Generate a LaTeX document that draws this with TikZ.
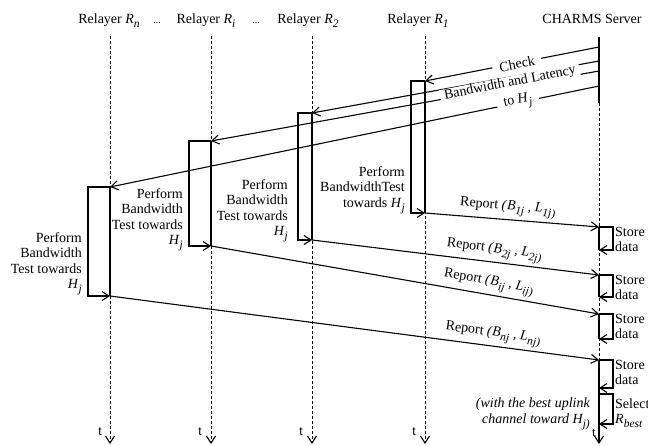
\documentclass[tikz,border=0pt]{standalone}
\usepackage{fontspec}
\setmainfont{Liberation Serif}
\newfontfamily\tsansfont{Liberation Sans}
\usetikzlibrary{arrows.meta}
\newcommand{\vsub}[2]{\textit{#1}\raisebox{-4pt}{\fontsize{11.5}{11.5}\selectfont\itshape #2}}
\tikzset{
  lifeln/.style={line width=0.9pt, dash pattern=on 3pt off 2pt},
  actline/.style={line width=1.1pt},
  tipv/.tip={Straight Barb[length=7pt,width=9pt,line width=1.1pt]},
  msgarrow/.style={line width=1.1pt, -tipv},
  titlelbl/.style={font=\fontsize{14}{16}\selectfont, inner sep=0pt, anchor=base},
  bodytxt/.style={font=\fontsize{14}{15.5}\selectfont, inner sep=0pt, align=right, anchor=north east},
  sidetxt/.style={font=\fontsize{14}{15}\selectfont, inner sep=0pt, align=left, anchor=north west},
  replbl/.style={font=\fontsize{14}{16}\selectfont, inner sep=3pt, above, sloped},
  chklbl/.style={font=\fontsize{14}{16}\selectfont, fill=white, inner xsep=7pt, inner ysep=0pt, rotate=11},
  tlbl/.style={font=\tsansfont\fontsize{12}{12}\selectfont, inner sep=0pt}
}
\begin{document}
\begin{tikzpicture}[x=1pt,y=-1pt]
\useasboundingbox (0,0) rectangle (648,445);

% ---- titles
\node[titlelbl] (tRn) at (109,23) {Relayer \vsub{R}{n}};
\node[titlelbl,font=\fontsize{10}{10}\selectfont] (dots1) at (157,23) {...};
\node[titlelbl] (tRi) at (206,23) {Relayer \vsub{R}{i}};
\node[titlelbl,font=\fontsize{10}{10}\selectfont] (dots2) at (256,23) {...};
\node[titlelbl] (tR2) at (308,23) {Relayer \vsub{R}{2}};
\node[titlelbl] (tR1) at (418,23) {Relayer \vsub{R}{1}};
\node[titlelbl] (tS) at (592,23) {CHARMS Server};

% ---- lifeline coordinates
\coordinate (Rn-top) at (110,36); \coordinate (Rn-end) at (110,444);
\coordinate (Ri-top) at (211,36); \coordinate (Ri-end) at (211,444);
\coordinate (R2-top) at (312,36); \coordinate (R2-end) at (312,444);
\coordinate (R1-top) at (425,36); \coordinate (R1-end) at (425,444);
\coordinate (S-top) at (599,37); \coordinate (S-dash) at (599,103); \coordinate (S-end) at (599,444);

% activation bounds
\coordinate (R1-t) at (425,81);  \coordinate (R1-b) at (425,213);
\coordinate (R2-t) at (312,113); \coordinate (R2-b) at (312,240);
\coordinate (Ri-t) at (211,141); \coordinate (Ri-b) at (211,246);
\coordinate (Rn-t) at (110,187); \coordinate (Rn-b) at (110,296);

% server points
\coordinate (S-m1) at (599,47); \coordinate (S-m2) at (599,61);
\coordinate (S-m3) at (599,71); \coordinate (S-m4) at (599,86);
\coordinate (S-r1) at (599,227); \coordinate (S-s1) at (599,250);
\coordinate (S-r2) at (599,275); \coordinate (S-s2) at (599,297);
\coordinate (S-r3) at (599,314); \coordinate (S-s3) at (599,339);
\coordinate (S-r4) at (599,360); \coordinate (S-s4) at (599,388);
\coordinate (S-selt) at (599,394); \coordinate (S-selb) at (599,424);

% ---- relayer lifelines
\foreach \r in {Rn,Ri,R2,R1}{
  \draw[lifeln, -tipv] (\r-top) -- (\r-end);
  \draw[actline] (\r-t) -- (\r-b);
}

% ---- server lifeline
\draw[actline] (S-top) -- (S-dash);
\draw[lifeln] (S-dash) -- (S-r4);
\draw[actline] (S-r1) -- (S-s1);
\draw[actline] (S-r2) -- (S-s2);
\draw[actline] (S-r3) -- (S-s3);
\draw[actline, -tipv] (S-r4) -- (S-end);

% ---- check messages
\draw[msgarrow] (S-m1) -- (R1-t);
\draw[msgarrow] (S-m2) -- (R2-t);
\draw[msgarrow] (S-m3) -- (Ri-t);
\draw[msgarrow] (S-m4) -- (Rn-t);
\node[chklbl] (chk1) at (517,64) {Check};
\node[chklbl, inner xsep=4pt] (chk2) at (510,83) {Bandwidth and Latency};
\node[chklbl] (chk3) at (518,102) {to \vsub{H}{j}};

% ---- bandwidth tests (self arrows)
\draw[msgarrow] (R1-t) -- ++(-14,0) |- (R1-b);
\draw[msgarrow] (R2-t) -- ++(-14,0) |- (R2-b);
\draw[msgarrow] (Ri-t) -- ++(-22,0) |- (Ri-b);
\draw[msgarrow] (Rn-t) -- ++(-22,0) |- (Rn-b);

\node[bodytxt] (p1) at (405,166) {Perform\\BandwidthTest\\towards \vsub{H}{j}};
\node[bodytxt] (p2) at (288,179) {Perform\\Bandwidth\\Test towards\\\vsub{H}{j}};
\node[bodytxt] (pi) at (183,188) {Perform\\Bandwidth\\Test towards\\\vsub{H}{j}};
\node[bodytxt] (pn) at (82,232) {Perform\\Bandwidth\\Test towards\\\vsub{H}{j}};

% ---- reports
\draw[msgarrow] (R1-b) -- node[replbl, pos=.47] (rep1) {Report \textit{(}\vsub{B}{1j}\textit{ , }\vsub{L}{1j)}} (S-r1);
\draw[msgarrow] (R2-b) -- node[replbl, pos=.63] (rep2) {Report \textit{(}\vsub{B}{2j}\textit{ , }\vsub{L}{2j)}} (S-r2);
\draw[msgarrow] (Ri-b) -- node[replbl, pos=.71] (repi) {Report \textit{(}\vsub{B}{ij}\textit{ , }\vsub{L}{ij)}} (S-r3);
\draw[msgarrow] (Rn-b) -- node[replbl, pos=.78] (repn) {Report \textit{(}\vsub{B}{nj}\textit{ , }\vsub{L}{nj)}} (S-r4);

% ---- store data
\draw[msgarrow] (S-r1) -- ++(14,0) |- (S-s1);
\draw[msgarrow] (S-r2) -- ++(14,0) |- (S-s2);
\draw[msgarrow] (S-r3) -- ++(14,0) |- (S-s3);
\draw[msgarrow] (S-r4) -- ++(14,0) |- (S-s4);
\node[sidetxt] (sd1) at (615,227) {Store\\data};
\node[sidetxt] (sd2) at (615,275) {Store\\data};
\node[sidetxt] (sd3) at (615,314) {Store\\data};
\node[sidetxt] (sd4) at (615,360) {Store\\data};

% ---- select
\draw[msgarrow] (S-selt) -- ++(14,0) |- (S-selb);
\node[sidetxt] (sel) at (615,399) {Select\\\vsub{R}{best}};
\node[bodytxt, font=\fontsize{14}{15.5}\selectfont\itshape] (best) at (590,398) {(with the best uplink\\channel toward \vsub{H}{j)}};

% ---- time labels
\node[tlbl] (tn) at (100,432) {t};
\node[tlbl] (ti) at (200,432) {t};
\node[tlbl] (t2) at (301,432) {t};
\node[tlbl] (t1) at (414,432) {t};
\node[tlbl, font=\fontsize{13}{13}\selectfont] (ts) at (594,433) {t};
\end{tikzpicture}
\end{document}
